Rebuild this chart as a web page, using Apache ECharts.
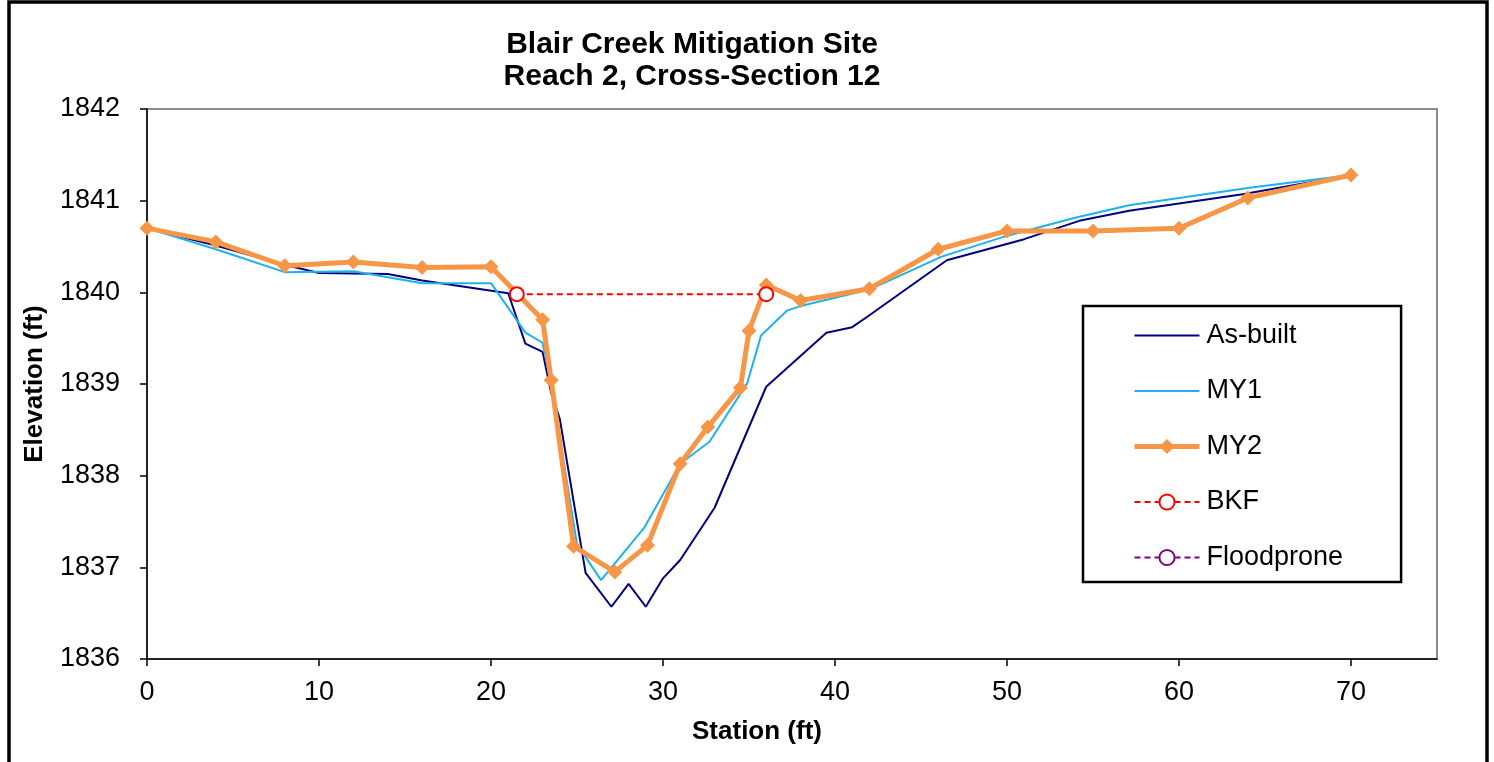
<!DOCTYPE html>
<html>
<head>
<meta charset="utf-8">
<script src="https://cdn.jsdelivr.net/npm/echarts@6/dist/echarts.min.js"></script>
<style>
    html, body { margin: 0; padding: 0; background: #fff; }
    #chart { width: 1494px; height: 762px; }
</style>
</head>
<body>
<div id="chart"></div>
<script>
    // station (ft) / elevation (ft)
    var asBuiltStation = [0, 4, 8, 10, 14, 16, 21, 22, 23, 23.5, 24, 25.5, 27, 28, 29, 30, 31, 33, 36, 39.5, 41, 42, 46.5, 51, 54.2, 57.1, 63.7, 70];
    var asBuiltElev = [1840.70, 1840.51, 1840.30, 1840.21, 1840.20, 1840.13, 1839.99, 1839.44, 1839.35, 1838.90, 1838.62, 1836.94, 1836.57, 1836.82, 1836.57, 1836.88, 1837.08, 1837.65, 1838.97, 1839.56, 1839.62, 1839.75, 1840.35, 1840.58, 1840.78, 1840.89, 1841.07, 1841.28];

    var my1Station = [0, 4, 8, 12, 16, 20, 22, 23, 23.5, 25, 26.4, 28.9, 31, 32.7, 34.9, 35.7, 37.2, 38, 42, 46.2, 49.7, 53.9, 57.1, 64.1, 70];
    var my1Elev = [1840.70, 1840.47, 1840.22, 1840.23, 1840.10, 1840.10, 1839.56, 1839.45, 1839.00, 1837.25, 1836.86, 1837.43, 1838.13, 1838.37, 1839.01, 1839.53, 1839.80, 1839.85, 1840.03, 1840.39, 1840.60, 1840.81, 1840.95, 1841.14, 1841.28];

    var my2Station = [0, 4, 8, 12, 16, 20, 23, 23.5, 24.8, 27.2, 29.1, 31, 32.6, 34.5, 35, 36, 38, 42, 46, 50, 55, 60, 64, 70];
    var my2Elev = [1840.70, 1840.55, 1840.29, 1840.33, 1840.27, 1840.28, 1839.70, 1839.04, 1837.23, 1836.95, 1837.24, 1838.13, 1838.53, 1838.96, 1839.58, 1840.08, 1839.91, 1840.04, 1840.47, 1840.67, 1840.67, 1840.70, 1841.03, 1841.28];

    var bkfStation = [21.5, 36];
    var bkfElev = [1839.98, 1839.98];

    var floodStation = [];
    var floodElev = [];

    var xTickValues = [0, 10, 20, 30, 40, 50, 60, 70];
    var yTickValues = [1836, 1837, 1838, 1839, 1840, 1841, 1842];

    function pairs(xs, ys) {
        var out = [];
        for (var i = 0; i < xs.length; i++) {
            out.push([xs[i], ys[i]]);
        }
        return out;
    }

    var font = 'Liberation Sans, Arial, sans-serif';
    var chart = echarts.init(document.getElementById('chart'));

    var option = {
        backgroundColor: '#fff',
        animation: false,
        textStyle: { fontFamily: font, color: '#000' },
        title: {
            text: 'Blair Creek Mitigation Site\nReach 2, Cross-Section 12',
            left: 687,
            top: 24,
            textAlign: 'center',
            textStyle: { fontFamily: font, fontSize: 30, fontWeight: 'bold', lineHeight: 32, color: '#000' }
        },
        grid: {
            left: 147, top: 109, right: 57, bottom: 103,
            show: true, borderColor: '#8c8c8c', borderWidth: 2, backgroundColor: '#fff'
        },
        legend: {
            orient: 'vertical',
            left: 1083,
            top: 306,
            padding: [16, 58, 11, 49],
            itemWidth: 65,
            itemHeight: 19,
            itemGap: 28.5,
            borderColor: '#000',
            borderWidth: 2.5,
            textStyle: { fontFamily: font, fontSize: 27, color: '#000', padding: [0, 0, 0, 2] },
            data: [
                { name: 'As-built', itemStyle: { opacity: 0 } },
                { name: 'MY1', itemStyle: { opacity: 0 } },
                { name: 'MY2', lineStyle: { width: 5 } },
                'BKF',
                'Floodprone'
            ]
        },
        xAxis: {
            type: 'value',
            min: 0,
            max: 75,
            interval: 10,
            name: 'Station (ft)',
            nameLocation: 'middle',
            nameGap: 60,
            nameTextStyle: { fontFamily: font, fontSize: 26, fontWeight: 'bold', color: '#000', padding: [0, 70, 0, 0] },
            axisLine: { onZero: false, lineStyle: { color: '#000', width: 1.5 } },
            axisTick: { length: 7, customValues: xTickValues, lineStyle: { color: '#000', width: 1.5 } },
            axisLabel: { fontFamily: font, fontSize: 27, color: '#000', margin: 20, customValues: xTickValues },
            splitLine: { show: false }
        },
        yAxis: {
            type: 'value',
            min: 1836,
            max: 1842,
            interval: 1,
            name: 'Elevation (ft)',
            nameLocation: 'middle',
            nameRotate: 90,
            nameGap: 99,
            nameTextStyle: { fontFamily: font, fontSize: 26, fontWeight: 'bold', color: '#000' },
            axisLine: { show: true, onZero: false, lineStyle: { color: '#000', width: 1.5 } },
            axisTick: { show: true, length: 7, customValues: yTickValues, lineStyle: { color: '#000', width: 1.5 } },
            axisLabel: {
                fontFamily: font, fontSize: 27, color: '#000', margin: 27,
                customValues: yTickValues,
                formatter: function (v) { return String(v); }
            },
            splitLine: { show: false }
        },
        series: [
            {
                name: 'As-built',
                type: 'line',
                data: pairs(asBuiltStation, asBuiltElev),
                symbol: 'none',
                color: '#000080',
                lineStyle: { color: '#000080', width: 2 },
                z: 2
            },
            {
                name: 'MY1',
                type: 'line',
                data: pairs(my1Station, my1Elev),
                symbol: 'none',
                color: '#1eb1ec',
                lineStyle: { color: '#1eb1ec', width: 2 },
                z: 3
            },
            {
                name: 'MY2',
                type: 'line',
                data: pairs(my2Station, my2Elev),
                symbol: 'diamond',
                symbolSize: 15,
                color: '#f79646',
                itemStyle: { color: '#f79646' },
                lineStyle: { color: '#f79646', width: 5 },
                z: 4
            },
            {
                name: 'BKF',
                type: 'line',
                data: pairs(bkfStation, bkfElev),
                symbol: 'emptyCircle',
                symbolSize: 14,
                color: '#ff0000',
                itemStyle: { color: '#ff0000', borderColor: '#ff0000', borderWidth: 2 },
                lineStyle: { color: '#ff0000', width: 2, type: [6, 4] },
                z: 5
            },
            {
                name: 'Floodprone',
                type: 'line',
                data: pairs(floodStation, floodElev),
                symbol: 'emptyCircle',
                symbolSize: 14,
                color: '#800080',
                itemStyle: { color: '#800080', borderColor: '#800080', borderWidth: 2 },
                lineStyle: { color: '#800080', width: 2, type: [6, 4] },
                z: 5
            }
        ],
        graphic: [
            {
                type: 'rect',
                shape: { x: 9, y: 2, width: 1478, height: 800 },
                style: { fill: 'none', stroke: '#000', lineWidth: 3.5 },
                silent: true
            }
        ]
    };

    chart.setOption(option);
</script>
</body>
</html>
